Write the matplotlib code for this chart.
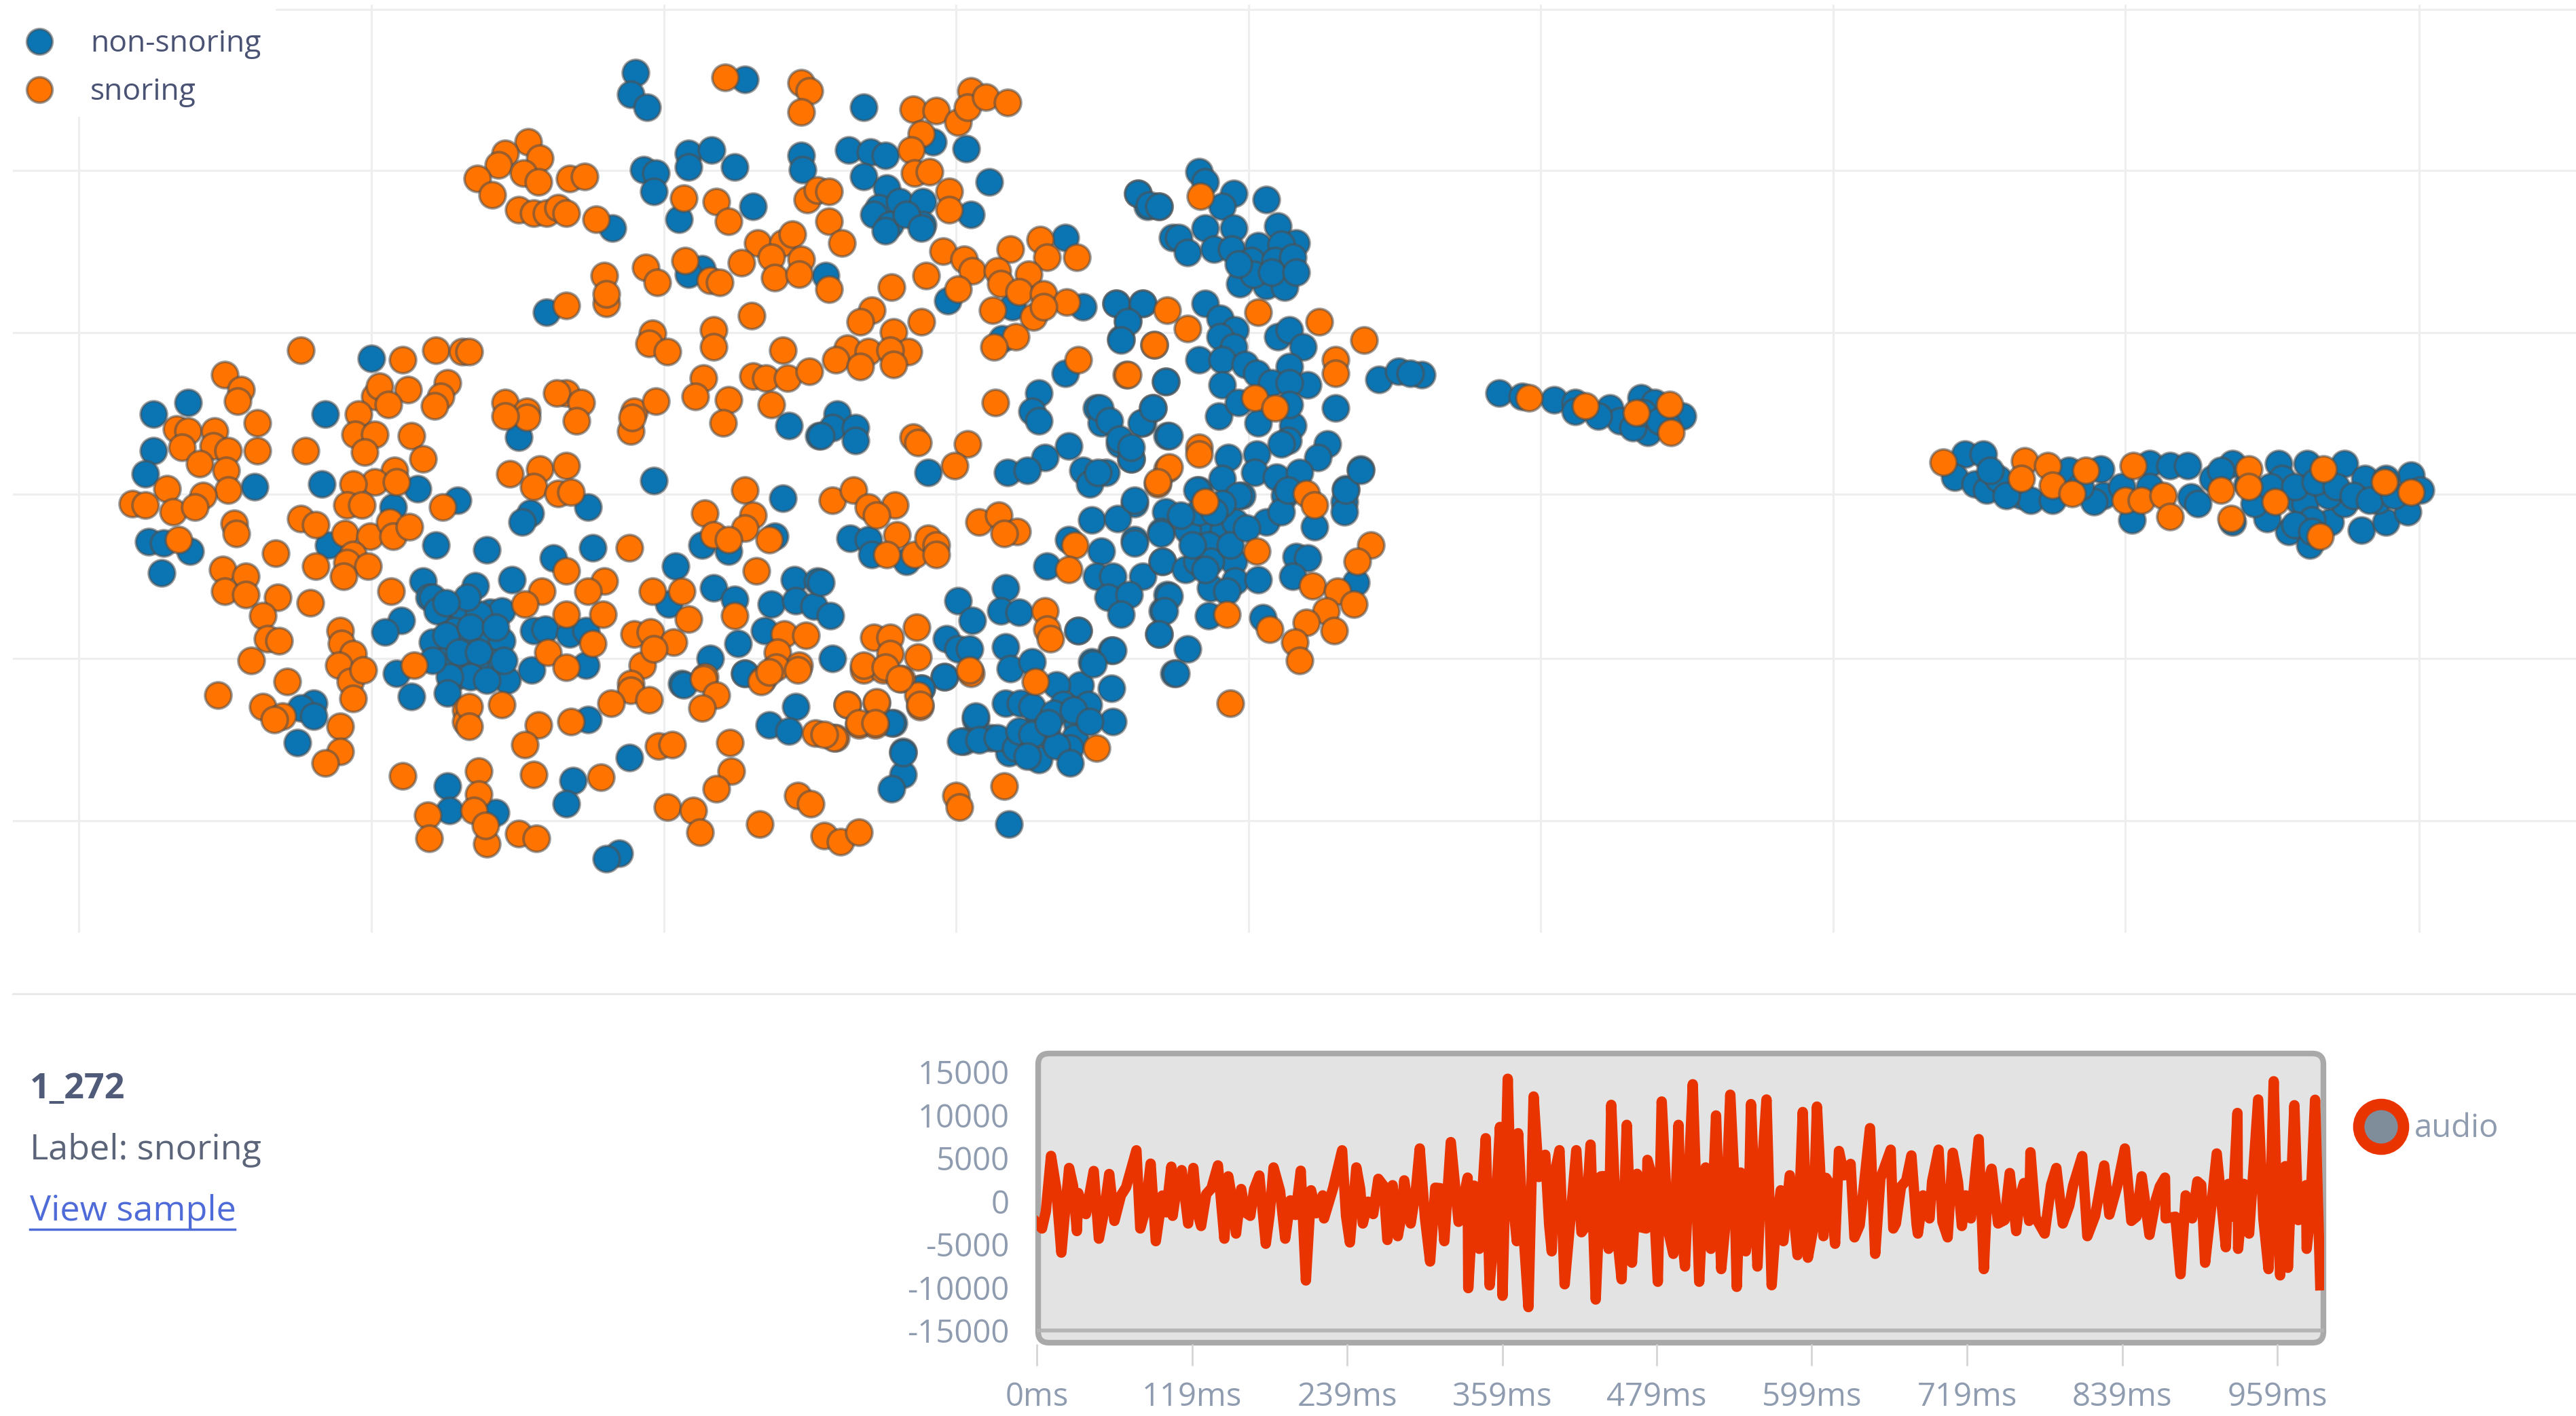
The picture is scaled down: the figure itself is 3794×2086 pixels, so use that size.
import numpy as np
import matplotlib
matplotlib.use("Agg")
import matplotlib.pyplot as plt
from matplotlib.lines import Line2D
from matplotlib.patches import FancyBboxPatch, Rectangle, Circle
from matplotlib.transforms import IdentityTransform

W, H = 3794, 2086
DPI = 100
plt.rcParams['font.family'] = ['Open Sans', 'DejaVu Sans']

# projection values, no real unit on these axes
grid_x = [47.7, 225, 402, 579, 756, 933, 1110, 1287, 1465]
grid_y = [5.9, 103.4, 201.4, 299.5, 398.8, 497]

nonsnoring = [
    (385,44),(382,57),(392,65),(451,48),(390,103),(397,105),(396,116),(417,93),(417,101),(431,91),
    (445,101),(485,94),(486,103),(411,133),(456,125),(371,138),(425,163),(417,166),(331,189),
    (93,251),(114,244),(93,273),(88,287),(154,295),(197,251),(195,293),(225,217),(253,296),(238,307),
    (277,303),(90,328),(99,329),(115,334),(98,347),(199,330),(264,330),(256,352),(260,362),(243,376),
    (233,383),(273,375),(262,389),(269,400),(280,369),(282,396),(275,382),(288,355),(297,371),(304,370),
    (292,388),(304,388),(297,401),(288,401),(307,412),(276,410),(262,362),(290,372),(280,388),
    (265,370),(270,385),(278,395),(285,380),(290,395),(300,380),(285,410),(295,412),(272,410),(283,362),
    (270,365),(305,400),(262,400),
    (190,426),(182,429),(190,434),(180,450),(240,408),(249,422),(271,420),(271,476),(272,491),
    (314,265),(478,258),(496,264),(356,307),(321,311),(316,316),(396,291),(469,325),(474,302),(425,330),
    (441,334),(295,333),(359,332),(335,338),(409,343),(310,351),(432,356),(445,363),(405,366),(447,390),
    (430,399),(323,382),(330,381),(345,384),(355,382),(355,403),(322,406),(463,382),(467,366),(481,351),
    (495,352),(482,364),(493,367),(451,408),(413,414),(300,492),
    (356,436),(347,473),(343,487),(381,459),(547,455),(547,469),(540,478),(611,499),(375,517),(367,520),
    (414,415),(451,408),(482,428),(466,439),(478,443),(541,438),(558,417),(572,410),(591,436),(584,449),
    (600,447),(611,456),(609,426),
    (523,65),(565,86),(585,90),(514,91),(527,92),(536,94),(523,107),(537,114),(599,110),(588,130),
    (532,126),(545,122),(559,122),(529,130),(539,136),(559,136),(536,140),(549,130),(558,138),(500,167),
    (574,182),(645,144),(613,186),(656,186),(607,205),(689,117),(695,125),(702,125),(710,144),(676,184),
    (692,184),(683,194),(679,205),(645,226),(706,231),(629,238),(625,249),(664,247),(698,247),(507,251),
    (504,259),(518,259),(518,267),(497,264),(562,286),(515,326),(526,327),(549,340),(528,336),
    (580,364),(589,376),(609,356),(606,370),(617,371),(653,382),(497,353),(503,373),(504,399),
    (573,387),(580,393),(587,393),(572,410),(558,417),(540,438),(547,456),(609,392),(612,405),(625,401),
    (673,394),(661,401),(673,417),(654,415),(640,415),(618,426),(629,436),(644,427),(659,427),(674,437),
    (652,438),(634,445),(651,447),(591,434),(582,449),(593,448),(604,447),(615,453),(629,460),(648,453),
    (617,443),(625,428),(638,432),(650,430),(625,445),(640,452),(660,437),(622,458),(635,438),(648,462),
    (629,255),(667,256),(678,269),(685,278),(692,256),(707,264),(647,270),(633,277),(610,286),
    (622,285),(656,285),(670,286),(660,293),(687,305),(661,315),(677,314),(687,327),(706,310),(703,322),
    (667,334),(664,349),(674,349),(692,349),(704,340),(671,362),(684,360),(679,372),(707,360),(704,370),
    (702,384),(647,327),(634,343),(711,408),
    (726,104),(730,110),(747,117),(767,121),(740,125),(689,117),(696,124),(702,125),(730,138),(747,138),
    (714,144),(719,153),(735,151),(746,151),(774,137),(785,147),(762,149),(776,148),(758,158),(772,158),
    (783,156),(751,172),(767,173),(778,174),(759,166),(770,165),(750,160),(785,165),(676,184),(692,184),
    (683,195),(679,206),(706,231),
    (730,184),(739,193),(748,200),(739,204),(747,210),(726,218),(740,218),(754,221),(761,226),(774,204),
    (781,200),(789,210),(781,222),(740,233),(770,232),(792,233),(781,232),(835,230),(847,225),(861,227),
    (854,226),(809,247),(738,252),(750,244),(762,256),(783,258),(781,245),(780,267),(776,269),(804,269),
    (798,277),(761,275),(744,277),(760,286),(740,290),(773,289),(787,286),(824,284),(815,296),(752,300),
    (778,300),(726,297),(814,304),(691,256),(698,247),(708,264),(666,247),(672,255),(678,266),(685,278),
    (685,271),(665,286),(687,303),(703,323),(687,329),(725,297),(730,322),(741,321),(719,321),(732,330),
    (748,316),(750,300),(767,316),(776,310),(780,297),(796,319),(814,310),(815,297),(824,285),(785,337),
    (792,338),(783,349),(704,340),(718,345),(725,340),(747,340),(748,352),(733,356),(762,351),(743,358),
    (732,373),(765,374),(708,361),(705,370),(702,384),(719,393),(712,408),(674,394),(662,402),(653,382),
    (821,353),(726,310),(740,305),(733,340),(722,330),(735,310),(745,330),(755,320),(730,345),(715,312),
    (908,238),(941,242),(954,244),(975,247),(994,241),(1002,244),(1019,252),(981,255),(998,262),(989,259),
    (954,249),(922,240),(968,252),(1010,258),(995,250),(1005,255),
    (1190,275),(1201,275),(1184,289),(1196,293),(1203,297),(1224,300),(1230,303),(1243,303),(1253,285),
    (1272,284),(1274,300),(1291,315),(1302,281),(1314,282),(1325,282),(1327,301),(1331,305),(1352,281),
    (1380,281),(1397,281),(1420,281),(1382,290),(1392,303),(1386,322),(1399,330),(1411,316),(1432,290),
    (1430,321),(1445,316),(1460,288),(1466,297),(1458,310),(1373,314),(1352,316),(1407,295),(1302,295),
    (1268,304),(1361,293),(1420,305),(1396,305),(1440,303),(1410,300),(1210,290),(1340,290),
    (1205,285),(1215,300),(1260,295),(1285,295),(1345,285),(1365,305),(1375,295),(1390,295),(1402,292),
    (1415,295),(1425,300),(1435,303),(1450,300),(1445,290),(1400,315),(1390,318),(1400,322),
]

snoring = [
    (182,212),(136,227),(146,236),(144,243),(156,256),(156,273),(107,260),(114,261),(130,261),(110,271),
    (129,270),(138,273),(121,281),(137,285),(138,297),(101,296),(123,300),(80,305),(88,306),(105,310),
    (118,307),(142,317),(143,323),(108,327),(167,335),(135,345),(149,349),(136,358),(149,360),(168,362),
    (159,373),(162,387),(169,388),(152,400),(188,365),(185,273),(244,218),(264,212),(280,213),(227,240),
    (230,234),(247,236),(235,245),(271,232),(267,240),(263,246),(217,251),(215,263),(227,263),(221,274),
    (249,264),(256,278),(239,285),(227,292),(214,293),(240,292),(210,306),(219,306),(268,307),(182,314),
    (191,318),(209,323),(224,325),(236,316),(238,325),(248,319),(191,343),(214,336),(210,341),(223,343),
    (208,349),(237,358),(206,382),(207,390),(214,396),(205,403),(251,403),
    (132,421),(174,413),(159,428),(171,434),(166,436),(206,440),(206,455),(197,462),(212,413),(214,423),
    (220,406),(244,470),(259,494),(260,508),(282,430),(282,437),
    (439,47),(485,50),(490,55),(485,68),(320,86),(306,93),(327,96),(302,100),(317,105),(326,110),(289,108),
    (298,118),(314,127),(323,129),(331,129),(338,126),(343,129),(345,108),(354,107),(361,133),(414,120),
    (434,122),(441,134),(489,121),(495,115),(459,147),(474,147),(480,142),(449,159),(467,156),(469,168),
    (485,157),(484,166),(415,158),(430,170),(436,171),(391,162),(398,171),(366,167),(367,184),(367,178),
    (343,185),(455,191),(395,202),(393,208),(404,213),(432,200),(432,210),(474,212),(456,228),(464,229),
    (477,229),(490,225),(426,229),(421,240),(441,242),(467,245),(284,213),(343,238),(337,238),(352,244),
    (306,244),(319,249),(384,249),(397,243),
    (319,253),(306,252),(349,255),(382,261),(383,253),(438,256),(309,287),(327,284),(343,282),(323,295),
    (338,299),(346,298),(451,297),(427,311),(456,312),(451,320),(432,324),(441,327),(466,327),(381,332),
    (343,346),(458,346),(328,358),(366,352),(356,358),(395,358),(413,358),(318,366),(343,372),(365,372),
    (445,373),(417,375),(384,384),(394,383),(408,389),(359,390),(332,395),(343,404),(389,403),(396,393),
    (475,384),(488,385),(471,395),(484,403),(470,404),(462,411),(427,410),(382,414),
    (304,427),(284,428),(284,440),(326,439),(318,451),(346,437),(323,469),(364,471),(399,452),(407,451),
    (442,450),(443,467),(434,478),(404,489),(420,491),(424,504),(460,499),(483,482),(491,487),(499,506),
    (509,510),(520,504),(579,482),(581,489),(608,476),(314,505),(325,508),(295,511),(290,467),(290,481),
    (287,491),(294,500),(382,418),(370,426),(393,424),(426,411),(434,421),(425,429),(461,413),(466,407),
    (483,406),(513,427),(531,426),(520,439),(530,439),(494,444),(506,447),(546,411),(523,406),(535,406),
    (556,421),(557,428),(588,408),
    (553,66),(567,67),(580,74),(588,55),(586,65),(597,59),(610,62),(558,81),(552,91),(554,105),(563,104),
    (575,116),(575,127),(502,116),(502,134),(510,147),(502,175),(571,152),(584,157),(589,164),(580,175),
    (561,167),(540,174),(612,151),(630,145),(634,156),(652,156),(604,164),(623,166),(606,172),(617,177),
    (632,178),(646,183),(601,188),(626,192),(632,186),(615,204),(602,210),(707,188),(699,209),(682,227),
    (653,218),(603,244),(528,188),(521,195),(558,195),(541,201),(513,211),(526,213),(550,213),(539,212),
    (506,218),(521,222),(541,221),
    (553,265),(556,268),(586,269),(578,282),(504,303),(517,297),(526,307),(542,306),(531,312),(543,324),
    (537,336),(554,336),(562,326),(567,330),(567,336),(593,316),(605,312),(616,322),(608,323),(633,370),
    (634,381),(636,387),(555,380),(529,386),(539,386),(539,396),(556,398),(523,403),(536,404),(545,411),
    (587,406),(557,427),(513,427),(531,425),(520,438),(530,438),(505,447),(499,445),(627,413),(664,453),
    (707,284),(701,293),(651,330),(647,345),
    (727,119),(762,189),(719,199),(699,209),(683,227),(799,195),(826,206),(809,218),(809,226),(760,241),
    (772,247),(726,271),(726,275),(708,283),(701,292),(730,304),(791,299),(796,306),(761,334),(743,372),
    (769,381),(830,330),(822,340),(795,355),(810,358),(820,366),(803,370),(791,377),(808,382),(784,389),
    (787,400),(745,426),
    (926,241),(960,246),(991,250),(1011,245),(1012,262),
    (1177,280),(1226,279),(1240,282),(1224,290),(1243,294),(1255,299),(1263,285),(1292,282),(1287,303),
    (1297,303),(1310,300),(1314,313),(1345,297),(1362,284),(1362,295),(1351,314),(1378,304),(1407,284),
    (1444,292),(1460,298),(1405,325),
]

class_names = ['non-snoring', 'snoring']
class_colors = ['#0b75b4', '#ff7300']

# audio sample, peak values (ms, amplitude)
up_t = [11,25,32,44,56,65,77,88,97,104,112,121,131,140,148,158,172,183,196,204,212,221,236,247,256,264,275,284,
        296,308,320,333,347,358,364,372,384,393,404,417,428,436,444,456,464,472,483,496,507,517,525,536,544,552,
        564,575,592,603,613,620,629,644,660,668,676,685,697,708,718,728,738,752,760,768,788,798,808,825,841,854,
        865,872,888,897,912,921,928,944,956,965,972,981,988]
up_v = [5900,4500,1600,4150,3800,1300,6550,5000,1300,4650,4250,4500,1470,4800,3530,2060,3620,4560,740,4180,1910,
        1320,6550,4560,590,3240,2500,3060,6760,2210,7500,3380,7950,9260,14850,8530,12790,6030,6560,6560,7210,3530,
        11820,9500,3820,5440,12210,9500,14210,4560,10590,13000,3970,11910,12440,1910,10990,11620,2650,6470,4970,
        9120,6620,2350,5950,1320,6620,6260,1320,7850,4410,3910,1180,6320,4500,150,5880,4790,6760,3530,880,3380,
        1320,2940,6180,2650,10880,12440,14560,4710,11780,2500,12410]
down_t = [4,19,31,48,60,80,92,105,117,127,145,154,165,177,192,208,222,242,252,271,279,289,304,315,333.5,342,350,
          360,371,380,398,408,421,432,442,452,460,471,480,492,501,512,521,529,541,548,557,568,577,588,596,608,617,
          632,648,662,681,690,704,715,732,743,757,767,779,793,812,829,846,860,872.5,884,893,903,919,928.5,937,952,
          961,967,981.5,992]
down_v = [-3820,-6620,-4120,-5000,-2940,-3820,-5290,-2350,-3240,-3530,-5000,-4410,-2350,-5590,-5000,-9850,-2650,
          -5440,-3240,-5150,-4710,-3240,-7650,-5290,-10740,-6180,-10410,-11620,-5290,-12940,-6470,-10290,-4260,
          -12060,-6180,-9710,-7790,-3820,-10000,-6760,-8230,-10000,-6180,-8530,-10590,-6470,-8230,-10400,-5290,
          -6910,-7210,-4710,-5590,-4850,-6760,-3820,-4410,-2650,-4850,-3530,-8530,-3240,-4120,-2940,-4410,-3240,
          -4710,-2210,-2940,-4560,-2650,-9120,-2650,-7790,-5990,-6180,-4410,-8530,-9260,-8380,-6180,-10410]
# small swings inside the solid band, rough reading of its height
band_t = [7,15,22,28,38,52,69,84,100,108,124,135,150,161,168,180,188,200,216,229,239,250,260,268,282,293,300,312,
          326,338,345,354,366,376,388,396,400,412,424,438,448,466,476,488,498,504,514,520,532,539,550,560,571,582,
          600,610,624,636,652,664,672,680,692,700,712,722,735,748,763,772,784,801,818,835,850,868,880,900,907,924,
          933,948,958,975,984]
band_v = [-1200,1500,-900,1800,-1500,-1200,1600,-1000,-1300,1400,-1200,1500,1100,-1300,1400,-1500,1200,-1600,-1400,
          1500,-1700,1400,-1500,1800,-1600,1300,-1900,1500,-2400,1800,2500,-2600,3000,-3200,2800,-2700,3000,-2800,
          -3000,2900,-3200,-3000,2600,-3400,-2800,3100,-3000,2800,-3100,3000,-3000,2700,-3200,3000,-3300,2700,3000,
          -2800,2600,-2600,2400,-2700,2300,-2400,2200,-2000,2000,-2200,2100,-1900,1900,1800,-1700,1700,-1800,1700,
          -1800,1900,-1700,-1800,2000,-2000,2200,-2200,-2000]
y_ticks = [15000, 10000, 5000, 0, -5000, -10000, -15000]
x_ticks = [0, 120, 240, 360, 479, 599, 719, 839, 959]
x_tick_labels = ['0ms', '119ms', '239ms', '359ms', '479ms', '599ms', '719ms', '839ms', '959ms']

fig = plt.figure(figsize=(W / DPI, H / DPI), dpi=DPI, facecolor='white')


def px_axes(x0, y0, x1, y1):
    # axes placed by image pixels, y counted from the top
    return fig.add_axes([x0 / W, 1 - y1 / H, (x1 - x0) / W, (y1 - y0) / H])


# scatter part
k = 2.432
ax = px_axes(8 * k, 3 * k, 1560 * k, 565 * k)
ax.set_xlim(8, 1560)
ax.set_ylim(565, 3)
ax.patch.set_alpha(0)
for s in ax.spines.values():
    s.set_visible(False)
ax.set_xticks(grid_x)
ax.set_yticks(grid_y)
ax.tick_params(length=0, labelbottom=False, labelleft=False)
ax.grid(True, color='#eeeeee', linewidth=2.2)
ax.set_axisbelow(True)

edge = (0.3, 0.3, 0.3, 0.55)
for pts, col in zip([nonsnoring, snoring], class_colors):
    pts = np.array(pts, dtype=float)
    ax.scatter(pts[:, 0], pts[:, 1], s=780, c=col, edgecolors=[edge], linewidths=2.8, zorder=3)

# legend box sits over the grid
fig.add_artist(Rectangle((0, H - 172), 406, 172, transform=IdentityTransform(), facecolor='white', edgecolor='none', zorder=2))
for i, (name, col) in enumerate(zip(class_names, class_colors)):
    yy = 61 + i * 71
    fig.add_artist(Line2D([58], [H - yy], transform=IdentityTransform(), marker='o', markersize=27, color=col,
                          markeredgecolor=edge, markeredgewidth=2.8, linestyle='none', zorder=3))
    fig.text(133 / W, 1 - (yy + 4) / H, name, color='#4b5375', fontsize=32, va='center', ha='left', zorder=3)

fig.add_artist(Line2D([19, W], [H - 1464, H - 1464], transform=IdentityTransform(), color='#e9e9e9', linewidth=2.2))

# sample info
fig.text(44 / W, 1 - 1605 / H, '1_272', color='#4f5b78', fontsize=37.5, fontweight='bold', va='center')
fig.text(44 / W, 1 - 1694 / H, 'Label: snoring', color='#5b6478', fontsize=37.5, va='center')
fig.text(44 / W, 1 - 1784 / H, 'View sample', color='#4f6bd8', fontsize=37.5, va='center')
fig.add_artist(Line2D([44, 346], [H - 1811, H - 1811], transform=IdentityTransform(), color='#4f6bd8', linewidth=2.5))

# waveform part
box = FancyBboxPatch((1529, H - 1978), 1893, 426, boxstyle='round,pad=0,rounding_size=16', transform=IdentityTransform(),
                     facecolor='#e3e3e3', edgecolor='#a9a9a9', linewidth=6, zorder=-1)
fig.add_artist(box)

ms_per_px = 1 / 1.91
amp_per_px = 1 / 0.0127
bx = px_axes(1527, 1552, 3423, 1980)
bx.set_xlim((1527 - 1522.6) * ms_per_px, (3423 - 1522.6) * ms_per_px)
bx.set_ylim((1769.5 - 1980) * amp_per_px, (1769.5 - 1552) * amp_per_px)
bx.patch.set_alpha(0)
for s in bx.spines.values():
    s.set_visible(False)

# peaks were read at the outer edge of the thick line, so pull the vertices in by half its width
line_inset = 650
t = np.array([0] + up_t + down_t + band_t, dtype=float)
v = np.array([-2500] + [a - line_inset for a in up_v] + [a + line_inset for a in down_v] + band_v, dtype=float)
order = np.argsort(t)
bx.axhline(-15000, color='#b3b3b3', linewidth=4, zorder=1)
bx.plot(t[order], v[order], color='#e93400', linewidth=11, solid_joinstyle='round', zorder=2)

bx.set_yticks(y_ticks)
bx.set_yticklabels([str(a) for a in y_ticks])
bx.set_xticks(x_ticks)
bx.set_xticklabels(x_tick_labels)
bx.tick_params(axis='y', length=0, pad=29, labelsize=34, labelcolor='#8f9cb0')
bx.tick_params(axis='x', length=23, width=2, color='#d5d5d5', pad=16, labelsize=34, labelcolor='#8f9cb0')

# audio legend
fig.add_artist(Circle((3507, H - 1660), 33, transform=IdentityTransform(), facecolor='#7f8c9a', edgecolor='#e93400', linewidth=12))
fig.text(3556 / W, 1 - 1662 / H, 'audio', color='#8f9cb0', fontsize=34, va='center', ha='left')

fig.savefig('out.png', dpi=DPI)
